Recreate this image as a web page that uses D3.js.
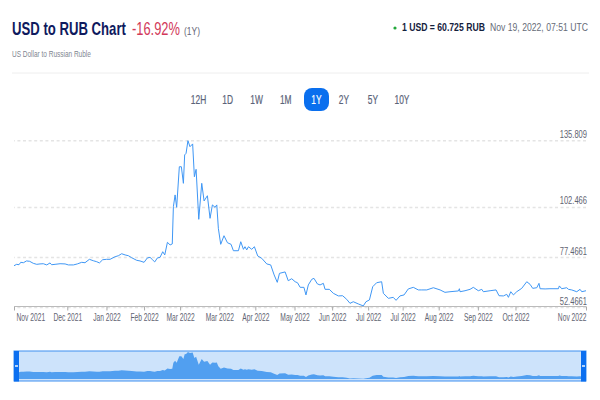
<!DOCTYPE html>
<html>
<head>
<meta charset="utf-8">
<script src="https://cdn.jsdelivr.net/npm/d3@7"></script>
<style>
  html, body { margin: 0; padding: 0; background: #fff; }
  svg { display: block; font-family: 'Liberation Sans', Arial, sans-serif; }
  .domain { display: none; }
</style>
</head>
<body>
<svg id="chart" width="600" height="400"></svg>
<script>
const rangeButtons = ['12H','1D','1W','1M','1Y','2Y','5Y','10Y']
const activeButton = '1Y'

// days since the first point, and the rate on that day
const days = [0,1.7,3.2,4.3,6,8,10,12.3,14.5,16.6,18.7,20.9,23,24,26.2,29.4,32.6,34.7,37.9,40.4,43.2,45.3,48.1,50.6,52.8,54.5,56.6,59.1,61.3,64.5,66.6,68.7,70.9,73,75.1,78.3,80.4,83,85.1,86.8,88.5,89.8,91.5,93.2,94.9,96.2,97.9,99.6,101,101.7,102.8,103.8,105.5,106.8,108.1,108.9,109.8,111,112.3,114,115.1,116.2,117.9,119.8,121.3,123.4,125.1,126.6,128.3,129.4,130.4,131.9,134,136.2,138.5,140,143.2,144.7,146.4,147.4,148.5,149.6,151.7,153.4,155.5,158.1,161.3,163.8,166,168,169.4,173,175,177.2,179.4,180.9,182.6,185,186.3,187.8,190,191.4,193.6,195.3,197.4,198.5,201.2,203.8,207,209.7,212.3,214.4,216.5,219.7,222.9,224.6,226.8,228.9,231.4,234.6,235.7,238.9,242,243.8,246.3,248.9,251.6,254.8,258,260.2,263.4,267.6,271.9,275,278.2,283.6,284.2,284.6,287.8,291,293.1,296.3,298.5,299.5,303.8,307.6,309.5,312.3,314.4,315.5,317,318.7,320.8,324,327.2,329.3,331,333.6,335,335.7,338.9,342,347.4,348,349.5,352.7,353.8,355.9,359.1,361.2,362.3,365]
const rates = [73.1,73.8,73.6,74.8,74.6,75.5,75.3,74.3,73.8,74,74.1,73.5,74.5,73.6,73.8,74.1,74,73.5,73.5,74,74.8,74.6,76.3,75.6,75.1,74.5,76.1,76.3,76.3,77.6,78.1,79.1,78.5,78.1,77.1,75.8,75.5,74.8,77,77.3,76,75,77,77.3,80.1,78.5,84.8,83.5,84,102.6,108.5,102.3,122.6,122.6,114.3,128.5,129.3,135.6,132.6,134,117.6,121.3,96.3,114.3,105.5,108.1,96.8,103.5,102.3,103.5,91.8,83.8,88.1,84.6,83.8,80.6,80.6,85.1,81.3,82.6,81,82.6,81.3,82.6,78,76.8,74,73.5,68.5,64.8,69.3,70,65.6,66.6,65.1,64.6,62.3,62.3,58.5,63.5,66.3,66.8,64,63.5,64.3,61.3,61.3,59.3,58,58.1,56.3,54.3,55.1,54,53,55.1,56,62.6,64.6,65.1,59.3,56.8,57.3,55.8,58,58.5,61.5,62.3,61,61,61,62.1,61,59.8,60.1,60.5,61.6,60.1,60.6,61.3,62.3,60.6,61.3,60.1,60.6,61,58.1,58,58.8,57.3,60.1,58.5,60.1,61.8,65.1,63.8,61.8,62.1,64.3,61.6,61.5,61.6,61.6,63,61.6,62.1,61.3,61,60.1,61.3,60.1,60.6]

const startDate = new Date(2021, 10, 19)
const xTickDates = ['2021-11-19','2021-12-23','2022-01-17','2022-02-10','2022-03-05','2022-03-30','2022-04-22','2022-05-17','2022-06-10','2022-07-03','2022-07-25','2022-08-17','2022-09-11','2022-10-05','2022-11-19']
const yTicks = [135.809, 102.466, 77.4661, 52.4661]
const yTickLabels = ['135.809', '102.466', '77.4661', '52.4661']

const parseDay = d3.timeParse('%Y-%m-%d')
const points = days.map(function (d, i) {
  return { date: startDate.getTime() + d * 864e5, rate: rates[i] }
})

const svg = d3.select('#chart')

// the source picture was squeezed sideways, so the text is too
const squeeze = function (sel, f) {
  sel.attr('transform', function () {
    const tx = +this.getAttribute('x') || 0
    return 'translate(' + tx + ',0) scale(' + f + ',1) translate(' + (-tx) + ',0)'
  })
}

const label = function (x, y, text, size, color, weight, width) {
  const t = svg.append('text')
    .attr('x', x).attr('y', y)
    .attr('font-size', size)
    .attr('font-weight', weight || 400)
    .attr('fill', color)
    .text(text)
  squeeze(t, width / t.node().getComputedTextLength())
  return t
}

// header
label(12, 35, 'USD to RUB Chart', 18, '#0f1a5e', 700, 114)
label(132, 35.5, '-16.92%', 18, '#d2395a', 400, 48)
label(184, 35, '(1Y)', 11, '#667', 400, 16)
label(12, 57, 'US Dollar to Russian Ruble', 8.5, '#808590', 400, 79)

svg.append('circle').attr('cx', 395).attr('cy', 28).attr('r', 1.6).attr('fill', '#22a83a')
label(402, 31, '1 USD = 60.725 RUB', 10.5, '#14213d', 700, 83)
label(490, 31, 'Nov 19, 2022, 07:51 UTC', 10.5, '#666b78', 400, 98)

svg.append('line')
  .attr('x1', 12).attr('x2', 589).attr('y1', 73).attr('y2', 73)
  .attr('stroke', '#eeeeee')

// range buttons
const buttonX = d3.scalePoint().domain(rangeButtons).range([198.5, 402])
const buttons = svg.selectAll('.range').data(rangeButtons).enter()
  .append('g').attr('class', 'range')
  .attr('transform', function (d) { return 'translate(' + (d === activeButton ? 316.5 : buttonX(d)) + ',99.5)' })
buttons.filter(function (d) { return d === activeButton })
  .append('rect')
  .attr('x', -12.5).attr('y', -11.5).attr('width', 25).attr('height', 23).attr('rx', 8)
  .attr('fill', '#0a6fee')
buttons.append('text')
  .attr('text-anchor', 'middle').attr('dy', 4)
  .attr('font-size', 12)
  .attr('stroke-width', 0.2)
  .attr('stroke', function (d) { return d === activeButton ? '#fff' : '#5a6378' })
  .attr('fill', function (d) { return d === activeButton ? '#fff' : '#5a6378' })
  .text(function (d) { return d })
  .call(squeeze, 0.7)

// main chart
const x = d3.scaleTime()
  .domain([startDate, d3.timeDay.offset(startDate, 365)])
  .range([14, 586])
const y = d3.scaleLinear()
  .domain([52.4661, 135.809])
  .range([307, 140.3])

const yAxis = svg.append('g')
  .attr('transform', 'translate(586,0)')
  .call(d3.axisLeft(y).tickValues(yTicks).tickSize(572)
    .tickFormat(function (d, i) { return yTickLabels[i] }))
yAxis.selectAll('line')
  .attr('stroke', '#e4e4e4').attr('stroke-width', 1.5).attr('stroke-dasharray', '3,2.6')
yAxis.selectAll('text')
  .attr('x', 1).attr('dy', -3)
  .attr('text-anchor', 'end')
  .attr('font-size', 10.5).attr('font-family', "'Liberation Sans', Arial, sans-serif")
  .attr('fill', '#5f6472')
  .call(squeeze, 0.72)

const xAxis = svg.append('g')
  .attr('transform', 'translate(0,306.5)')
  .call(d3.axisBottom(x).tickValues(xTickDates.map(parseDay)).tickSize(4).tickPadding(3)
    .tickFormat(d3.timeFormat('%b %Y')))
xAxis.selectAll('line').attr('stroke', '#aaaaaa')
xAxis.selectAll('text')
  .attr('font-size', 10).attr('font-family', "'Liberation Sans', Arial, sans-serif")
  .attr('fill', '#5f6472')
xAxis.selectAll('.tick').filter(function (d, i) { return i === 0 }).select('text')
  .attr('text-anchor', 'start').attr('x', 2)
xAxis.selectAll('.tick').filter(function (d, i) { return i === xTickDates.length - 1 }).select('text')
  .attr('text-anchor', 'end').attr('x', 0)
xAxis.selectAll('text').call(squeeze, 0.67)
svg.append('line')
  .attr('x1', 14).attr('x2', 586).attr('y1', 306.5).attr('y2', 306.5)
  .attr('stroke', '#bbbbbb').attr('stroke-width', 1.2)

const rateLine = d3.line()
  .x(function (d) { return x(d.date) })
  .y(function (d) { return y(d.rate) })

svg.append('path')
  .datum(points)
  .attr('d', rateLine)
  .attr('fill', 'none')
  .attr('stroke', '#3f97f5')
  .attr('stroke-width', 1)

// navigator
const navY = d3.scaleLinear().domain([52.4661, 135.809]).range([379, 352])
const navArea = d3.area()
  .x(function (d) { return x(d.date) })
  .y0(379)
  .y1(function (d) { return navY(d.rate) })

svg.append('rect')
  .attr('x', 14).attr('y', 351).attr('width', 572).attr('height', 30)
  .attr('fill', '#cde3fb')
svg.append('path').datum(points).attr('d', navArea).attr('fill', '#519ff0')
svg.append('rect')
  .attr('x', 14).attr('y', 351).attr('width', 572).attr('height', 30)
  .attr('fill', 'none').attr('stroke', '#3f8ff0').attr('stroke-width', 1)

const handles = svg.selectAll('.handle').data([14, 581]).enter()
  .append('g').attr('class', 'handle')
  .attr('transform', function (d) { return 'translate(' + d + ',351)' })
handles.append('rect')
  .attr('width', 5).attr('height', 30.5).attr('fill', '#0b6ff0')
handles.append('rect')
  .attr('x', 1).attr('y', 14).attr('width', 3).attr('height', 2).attr('fill', '#b5d4fa')
</script>
</body>
</html>
